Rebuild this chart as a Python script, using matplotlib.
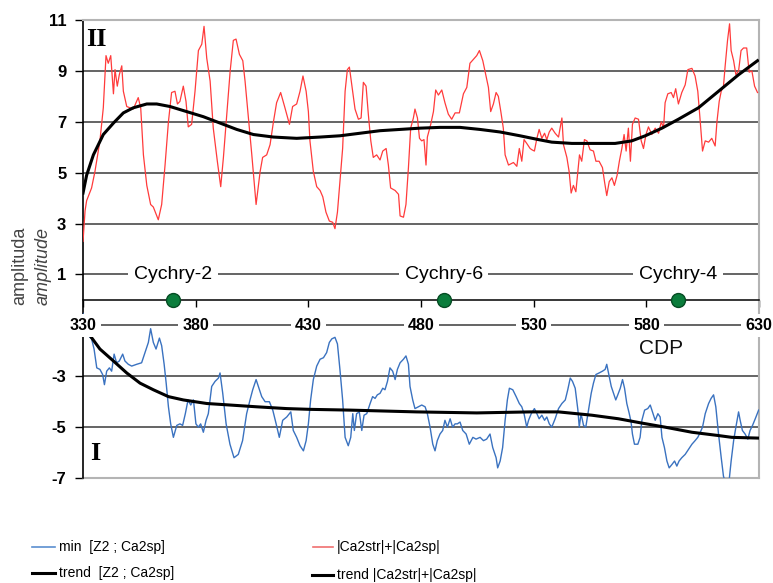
import matplotlib
matplotlib.use("Agg")
import matplotlib.pyplot as plt
from matplotlib.lines import Line2D

plt.rcParams['font.family'] = ['Liberation Sans', 'DejaVu Sans']

# -------------------- data --------------------
red_cdp = [330.0, 330.9, 331.6, 333.8, 335.3, 337.5, 339.0, 340.2, 341.2, 342.3, 343.5, 344.2, 345.2, 346.1,
           347.2, 347.9, 349.4, 352.3, 354.5, 355.6, 356.8, 358.3, 360.0, 361.2, 363.4, 364.9, 366.4, 367.9,
           369.3, 370.8, 371.9, 373.0, 374.5, 375.7, 376.7, 378.2, 379.7, 381.2, 382.7, 383.7, 384.9, 386.4,
           387.8, 389.6, 391.1, 392.3, 393.8, 395.3, 396.7, 397.9, 399.4, 400.9, 401.9, 403.4, 404.9, 406.8,
           408.6, 409.7, 411.5, 413.0, 414.5, 415.9, 417.7, 419.6, 421.6, 423.0, 424.8, 426.3, 427.6, 429.0,
           430.0, 430.7, 432.2, 433.7, 435.2, 436.4, 437.8, 439.3, 440.8, 441.8, 442.9, 444.0, 445.2, 446.3,
           447.3, 448.2, 449.2, 450.7, 452.2, 453.4, 454.4, 455.6, 456.6, 457.7, 458.8, 460.3, 461.8, 463.0,
           464.5, 465.5, 466.5, 468.5, 470.0, 470.7, 472.2, 473.3, 474.4, 475.4, 476.6, 477.3, 478.4, 479.3,
           480.3, 481.3, 482.2, 482.8, 484.3, 485.5, 486.5, 487.7, 489.2, 490.6, 492.1, 493.6, 495.1, 497.0,
           498.8, 500.3, 501.7, 503.2, 504.7, 505.9, 507.4, 508.8, 509.9, 510.9, 512.1, 513.3, 514.3, 515.4,
           516.5, 517.3, 518.8, 521.0, 522.5, 523.6, 524.7, 525.7, 526.9, 528.4, 529.2, 530.3, 531.4, 532.4,
           533.6, 534.8, 535.8, 536.9, 538.0, 539.5, 541.0, 542.5, 543.2, 544.7, 545.7, 546.6, 547.6, 548.7,
           549.6, 550.3, 551.3, 552.5, 553.6, 555.0, 556.5, 557.6, 559.0, 560.5, 561.4, 562.4, 563.5, 564.7,
           565.8, 567.0, 568.0, 569.1, 570.1, 571.0, 572.0, 572.9, 573.8, 575.0, 576.5, 577.7, 578.7, 579.8,
           580.9, 582.4, 583.9, 585.4, 586.6, 587.6, 588.3, 589.5, 591.0, 592.0, 593.0, 594.2, 595.7, 597.2,
           598.4, 600.2, 601.6, 602.8, 603.9, 604.9, 606.1, 607.6, 609.0, 610.5, 611.3, 612.3, 613.2, 614.2,
           614.9, 616.0, 616.9, 617.6, 618.7, 619.7, 620.9, 622.0, 623.1, 624.5, 625.6, 626.8, 628.0, 629.3]
red_amp = [2.3, 3.5, 3.9, 4.4, 5.05, 6.25, 7.55, 9.6, 9.3, 9.6, 8.1, 9.05, 8.4, 8.85,
           9.2, 8.2, 7.6, 7.5, 7.95, 7.55, 5.7, 4.5, 3.75, 3.65, 3.15, 3.75, 5.3, 7.0,
           8.15, 8.2, 7.7, 7.8, 8.4, 7.8, 6.8, 6.9, 8.2, 9.8, 10.05, 10.75, 9.5, 8.6,
           6.75, 5.45, 4.45, 5.6, 7.3, 9.0, 10.2, 10.25, 9.65, 9.4, 8.6, 7.15, 5.7, 3.75,
           5.05, 5.6, 5.7, 6.1, 7.0, 7.75, 8.15, 7.55, 6.9, 7.6, 7.7, 8.2, 8.8, 8.2,
           7.4, 6.25, 5.05, 4.45, 4.3, 4.05, 3.45, 3.1, 3.05, 2.8, 3.45, 4.65, 5.95, 8.2,
           9.05, 9.15, 8.5, 7.5, 7.1, 7.15, 8.55, 8.4, 7.3, 6.25, 5.6, 5.7, 5.5, 5.85,
           5.95, 5.3, 4.4, 4.3, 4.15, 3.3, 3.25, 3.75, 5.2, 6.75, 7.15, 7.5, 7.15, 6.35,
           6.25, 6.3, 5.3, 6.4, 6.9, 7.4, 8.25, 8.05, 8.25, 7.75, 7.3, 7.1, 7.35, 7.35,
           8.1, 8.35, 9.3, 9.45, 9.6, 9.8, 9.4, 8.8, 8.35, 7.4, 7.7, 8.15, 8.0, 7.4,
           6.75, 5.7, 5.3, 5.4, 5.25, 5.95, 5.45, 6.3, 6.15, 5.95, 5.9, 5.85, 6.35, 6.7,
           6.35, 6.55, 6.3, 6.6, 6.75, 6.55, 6.4, 7.15, 6.1, 5.6, 5.05, 4.2, 4.5, 4.25,
           5.05, 5.7, 5.45, 6.3, 6.25, 5.9, 5.85, 5.45, 5.45, 5.2, 4.65, 4.1, 4.65, 4.8,
           4.5, 4.9, 5.45, 5.95, 6.5, 5.85, 6.75, 5.45, 6.9, 7.15, 7.1, 6.25, 5.95, 6.5,
           6.8, 6.5, 6.75, 6.55, 7.0, 6.75, 7.75, 8.1, 8.15, 7.95, 8.3, 7.7, 8.15, 8.45,
           9.05, 9.1, 8.8, 8.2, 7.0, 5.85, 6.25, 6.2, 6.35, 6.05, 7.0, 7.8, 8.2, 8.4,
           9.15, 10.2, 10.85, 9.8, 9.4, 8.85, 9.0, 9.8, 9.9, 9.9, 8.95, 9.0, 8.4, 8.15]

red_trend_cdp = [330, 331.6, 334.6, 339, 343.5, 347.9, 352.3, 358.3, 362.7, 368.6, 376, 383.4, 390.8, 398.2,
                 405.6, 414.5, 424.8, 435.2, 444, 452.9, 461.8, 470.7, 479.6, 488.4, 497.3, 506.1, 515, 523.9,
                 532.1, 538, 546.9, 555.8, 566.1, 573.5, 579.5, 586.9, 594.2, 603.1, 612, 620.9, 629.3]
red_trend = [4.2, 4.9, 5.7, 6.5, 6.95, 7.35, 7.55, 7.7, 7.7, 7.6, 7.4, 7.2, 6.95, 6.7,
             6.5, 6.4, 6.35, 6.4, 6.45, 6.55, 6.65, 6.7, 6.75, 6.78, 6.78, 6.7, 6.6, 6.45,
             6.3, 6.2, 6.15, 6.15, 6.15, 6.25, 6.45, 6.75, 7.1, 7.55, 8.2, 8.85, 9.4]

blue_cdp = [330.0, 331.3, 332.4, 333.8, 334.9, 336.1, 337.5, 338.7, 339.5, 340.5, 341.7, 342.7, 343.8, 344.9,
            346.1, 347.6, 348.6, 350.1, 351.6, 353.8, 356.0, 357.5, 359.0, 360.0, 361.2, 362.4, 363.9, 364.9,
            366.0, 366.9, 367.9, 368.9, 370.1, 371.6, 373.0, 374.2, 375.4, 376.6, 377.8, 379.0, 380.1, 381.2,
            382.2, 383.4, 384.6, 385.6, 387.1, 388.6, 390.1, 390.8, 392.0, 393.5, 395.2, 397.0, 398.9, 400.8,
            402.6, 404.1, 405.3, 406.8, 407.8, 409.3, 410.8, 412.7, 414.2, 415.7, 417.1, 418.6, 420.4, 422.2,
            423.3, 424.8, 426.3, 427.8, 429.0, 430.0, 431.0, 432.2, 433.7, 435.2, 436.7, 438.1, 439.3, 440.4,
            441.8, 442.9, 444.0, 445.2, 446.3, 447.7, 448.8, 449.7, 450.4, 451.4, 452.6, 453.7, 454.7, 455.9,
            457.4, 458.5, 459.6, 460.6, 461.8, 463.0, 464.0, 465.1, 466.2, 467.4, 468.5, 469.5, 470.7, 472.2,
            473.3, 474.4, 475.1, 476.3, 477.3, 478.8, 480.3, 481.8, 482.8, 484.0, 485.2, 486.2, 487.2, 488.4,
            489.6, 490.6, 491.7, 492.9, 494.0, 495.1, 496.1, 497.3, 498.5, 500.0, 501.4, 503.0, 504.4, 506.2,
            507.7, 509.1, 510.6, 511.8, 513.3, 514.0, 515.1, 516.2, 517.3, 518.3, 519.2, 520.7, 522.2, 523.6,
            524.7, 525.7, 526.9, 527.7, 528.9, 530.3, 531.4, 532.4, 533.6, 534.8, 535.8, 536.9, 538.0, 539.5,
            541.0, 542.5, 544.0, 545.1, 546.2, 547.2, 548.4, 549.6, 550.2, 551.0, 552.1, 553.1, 554.3, 555.5,
            556.5, 557.6, 559.0, 560.5, 561.7, 562.4, 563.2, 564.4, 565.4, 566.4, 567.3, 568.4, 569.4, 570.3,
            571.3, 572.4, 573.2, 573.8, 574.7, 576.2, 577.2, 578.0, 579.2, 580.6, 581.7, 582.7, 583.9, 585.1,
            586.1, 586.9, 588.0, 589.1, 590.1, 591.3, 592.5, 593.5, 594.5, 595.7, 597.2, 598.7, 600.2, 601.6,
            602.8, 603.9, 604.9, 606.1, 607.6, 608.7, 609.8, 610.8, 612.0, 613.2, 614.2, 615.2, 616.7, 617.6,
            618.7, 619.7, 620.9, 621.6, 622.6, 623.8, 625.0, 626.0, 627.1, 628.3, 629.8]
blue_amp = [-0.53, -1.2, -1.4, -1.53, -1.93, -2.67, -2.73, -2.93, -3.33, -2.8, -2.67, -2.8, -2.13, -2.47,
            -2.4, -2.13, -2.4, -2.53, -2.6, -2.53, -2.47, -2.07, -1.67, -1.13, -1.67, -1.93, -1.5, -1.8,
            -2.53, -3.27, -4.2, -4.87, -5.4, -4.93, -4.87, -4.93, -4.47, -3.93, -4.13, -3.93, -4.87, -5.0,
            -4.87, -5.2, -4.73, -4.47, -3.4, -3.2, -3.07, -2.87, -3.67, -4.87, -5.67, -6.2, -6.07, -5.53,
            -4.47, -3.93, -3.53, -3.13, -3.4, -3.8, -4.0, -4.0, -4.33, -4.87, -5.4, -4.73, -4.6, -4.4,
            -5.13, -5.4, -5.73, -5.93, -5.53, -4.87, -3.93, -3.13, -2.6, -2.33, -2.27, -2.07, -1.67, -1.53,
            -1.47, -1.73, -2.73, -3.93, -5.4, -5.73, -5.4, -4.47, -5.13, -4.47, -4.4, -5.13, -4.53, -4.47,
            -4.07, -3.8, -3.87, -3.73, -3.67, -3.47, -3.53, -3.2, -2.67, -2.8, -3.13, -2.73, -2.47, -2.33,
            -2.2, -2.53, -3.4, -3.93, -4.27, -4.2, -4.13, -4.2, -4.47, -5.0, -5.67, -5.93, -5.53, -5.27,
            -5.13, -4.73, -5.0, -4.67, -5.0, -4.87, -4.87, -4.8, -5.13, -5.27, -5.67, -5.4, -5.47, -5.4,
            -5.53, -5.47, -5.27, -5.8, -6.2, -6.6, -6.33, -5.8, -4.73, -3.93, -3.47, -3.53, -3.8, -4.07,
            -4.2, -4.47, -5.0, -4.73, -4.47, -4.27, -4.47, -4.67, -4.53, -4.73, -4.6, -4.87, -5.0, -4.67,
            -4.27, -4.07, -3.93, -3.53, -3.07, -3.2, -3.47, -4.33, -5.0, -4.47, -4.93, -5.0, -4.33, -3.67,
            -3.27, -2.93, -2.87, -2.8, -2.73, -2.53, -2.87, -3.4, -3.67, -3.93, -3.73, -3.47, -3.13, -3.47,
            -4.07, -4.47, -4.8, -5.27, -5.67, -5.67, -5.4, -4.73, -4.33, -4.27, -4.13, -4.4, -4.73, -4.47,
            -4.6, -5.4, -5.8, -6.33, -6.6, -6.47, -6.33, -6.53, -6.33, -6.2, -6.07, -5.87, -5.67, -5.53,
            -5.4, -5.2, -5.0, -4.47, -4.07, -3.87, -3.73, -4.2, -5.27, -6.2, -6.93, -7.2, -7.1, -6.33,
            -5.53, -5.0, -4.4, -4.73, -5.13, -5.27, -5.47, -5.13, -4.93, -4.67, -4.33]

blue_trend_cdp = [330, 333.1, 337.5, 343.5, 349.4, 355.3, 361.2, 367.9, 374.5, 384.9, 395.2, 407.1, 420.4,
                  430.7, 448.5, 478, 504.7, 528.4, 541, 555.8, 567.6, 578, 588.3, 600.2, 612, 617.9, 629.8]
blue_trend = [-1.13, -1.4, -1.93, -2.4, -2.87, -3.27, -3.53, -3.8, -3.93, -4.07, -4.13, -4.2, -4.27,
              -4.3, -4.33, -4.4, -4.44, -4.4, -4.4, -4.53, -4.67, -4.84, -5.0, -5.2, -5.33, -5.4, -5.43]

wells = ['Cychry-2', 'Cychry-6', 'Cychry-4']
well_cdp = [370, 490, 594]

x_ticks = [330, 380, 430, 480, 530, 580, 630]
y_ticks = [11, 9, 7, 5, 3, 1, -3, -5, -7]
grid_levels = [9, 7, 5, 3, 1, -1, -3, -5]

# -------------------- figure --------------------
fig = plt.figure(figsize=(7.73, 5.83), dpi=100)
ax = fig.add_axes([0.1074, 0.180, 0.8746, 0.7857])
ax.set_xlim(330, 630)
ax.set_ylim(-7, 11)

for g in grid_levels:
    ax.axhline(g, color='#3a3a3a', lw=1.1, zorder=1)

ax.plot(red_cdp, red_amp, color='#ff3b3b', lw=0.9, zorder=3)
ax.plot(red_trend_cdp, red_trend, color='black', lw=2.2, zorder=4)
ax.plot(blue_cdp, blue_amp, color='#3a72c0', lw=1.0, zorder=3)
ax.plot(blue_trend_cdp, blue_trend, color='black', lw=2.2, zorder=4)

# frame: black left spine, x axis at 0, light grey box elsewhere
ax.spines['left'].set_color('black')
ax.spines['left'].set_linewidth(1.2)
for s in ['top', 'right']:
    ax.spines[s].set_color('#b4b4b4')
    ax.spines[s].set_linewidth(1.5)
ax.spines['bottom'].set_position(('data', 0))
ax.spines['bottom'].set_color('black')
ax.spines['bottom'].set_linewidth(1.1)
ax.axhline(-7, color='#b4b4b4', lw=1.5, zorder=2, clip_on=False)

ax.set_xticks(x_ticks)
ax.tick_params(axis='x', direction='out', length=5, width=1, labelbottom=False)
ax.set_yticks(y_ticks)
ax.set_yticklabels([str(v) for v in y_ticks], fontweight='bold', fontsize=12)
ax.tick_params(axis='y', direction='out', length=6, width=1, pad=6)

# CDP numbers sit on the -1 line
for v in x_ticks:
    ax.text(v, -1, str(v), ha='center', va='center', fontsize=11.5, fontweight='bold',
            bbox=dict(facecolor='white', edgecolor='none', pad=3), zorder=6, clip_on=False)

# wells
ax.plot(well_cdp, [0] * len(well_cdp), 'o', ms=10, color='#0b7d3c', mec='#064d24', mew=1,
        zorder=7, clip_on=False)
for name, x in zip(wells, well_cdp):
    ax.text(x, 1, name, ha='center', va='center', fontsize=14,
            bbox=dict(facecolor='white', edgecolor='none', pad=4), zorder=6)

fig.text(661 / 773, 1 - 348 / 583, 'CDP', ha='center', va='center', fontsize=15, color='#111111')

serif = ['Liberation Serif', 'DejaVu Serif']
fig.text(96 / 773, 1 - 39 / 583, 'II', ha='center', va='center', fontsize=19, fontweight='bold',
         family=serif)
fig.text(95 / 773, 1 - 454 / 583, 'I', ha='center', va='center', fontsize=19, fontweight='bold',
         family=serif)

fig.text(20 / 773, 1 - 266 / 583, 'amplituda', rotation=90, ha='center', va='center', fontsize=13,
         color='#444444')
fig.text(43 / 773, 1 - 266 / 583, 'amplitude', rotation=90, ha='center', va='center', fontsize=13,
         color='#444444', style='italic')

# legend (drawn by hand, two columns)
narrow = ['Liberation Sans Narrow', 'DejaVu Sans Condensed', 'Liberation Sans']
leg_items = [
    (32, 55, 547, '#5b8fd0', 1.2, 'min  [Z2 ; Ca2sp]'),
    (32, 55, 573, 'black', 2.2, 'trend  [Z2 ; Ca2sp]'),
    (313, 333, 547, '#f07070', 1.2, '|Ca2str|+|Ca2sp|'),
    (312, 333, 575, 'black', 2.2, 'trend |Ca2str|+|Ca2sp|'),
]
for x0, x1, y, c, w, label in leg_items:
    fig.add_artist(Line2D([x0 / 773, x1 / 773], [1 - y / 583, 1 - y / 583], color=c, lw=w))
    fig.text((x1 + 4) / 773, 1 - y / 583, label, ha='left', va='center', fontsize=10,
             family=narrow, color='black')

fig.savefig('out.png', dpi=100)
